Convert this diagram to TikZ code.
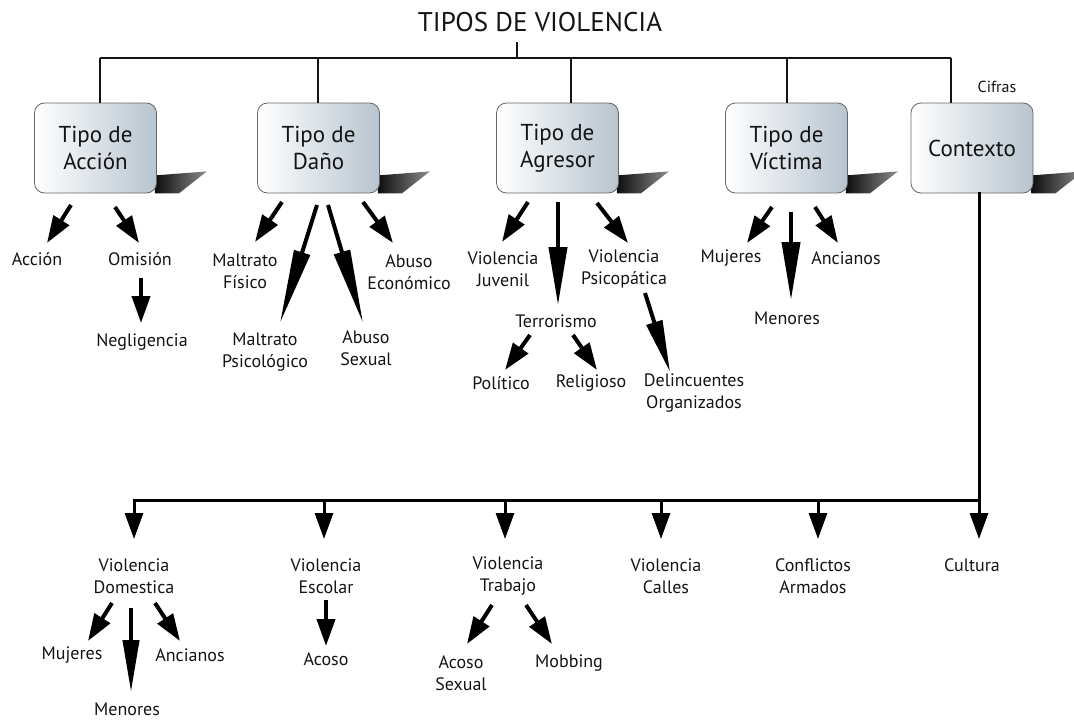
\documentclass[tikz,border=0pt]{standalone}
\usepackage{fontspec}
\setmainfont{PT Sans}
\usetikzlibrary{arrows.meta,backgrounds}
\definecolor{boxgray}{RGB}{184,196,207}
\definecolor{txt}{RGB}{20,20,20}
\newcommand{\boxshadow}[1]{%
  \shade[left color=black!95,right color=black!45]
    ([shift={(-2,-18)}]#1.south east) -- ([shift={(50,-22)}]#1.south east)
    -- ([shift={(22,0)}]#1.south east) -- ([shift={(-2,0)}]#1.south east) -- cycle;}
\begin{document}
\begin{tikzpicture}[x=1pt,y=-1pt,
  lbl/.style={font=\fontsize{18}{22}\selectfont, align=center, inner sep=0pt, text=txt},
  catbox/.style={draw=black!60, line width=0.8pt, rounded corners=10pt,
    left color=white, right color=boxgray, minimum width=122pt, minimum height=90pt,
    align=center, inner sep=2pt, text=txt, font=\fontsize{23}{27}\selectfont},
  conn/.style={line width=1.3pt, draw=txt},
  thk/.style={line width=3pt, line cap=rect},
  sarr/.style={line width=4pt, -{Triangle[length=27pt,width=18pt]}},
  marr/.style={line width=4pt, -{Triangle[length=58pt,width=18pt]}},
  larr/.style={line width=4pt, -{Triangle[length=74pt,width=16pt]}},
  darr/.style={line width=4pt, -{Triangle[length=52pt,width=16pt]}},
  barr/.style={line width=3pt, -{Triangle[length=26pt,width=18pt]}}]
\useasboundingbox (0,0) rectangle (1074,720);

% title
\node[font=\fontsize{27}{30}\selectfont, text=txt] (title) at (540,22) {TIPOS DE VIOLENCIA};

% category boxes
\node[catbox] (acc) at (95.5,148) {Tipo de\\Acción};
\node[catbox] (dan) at (318.5,148) {Tipo de\\Daño};
\node[catbox] (agr) at (557.5,148) {Tipo de\\Agresor};
\node[catbox] (vic) at (786.5,148) {Tipo de\\Víctima};
\node[catbox] (ctx) at (972,148) {Contexto};
\begin{pgfonlayer}{background}
\boxshadow{acc}\boxshadow{dan}\boxshadow{agr}\boxshadow{vic}\boxshadow{ctx}
\end{pgfonlayer}
\node[lbl, font=\fontsize{16}{19}\selectfont] (cif) at (997,87) {Cifras};

% top connectors
\coordinate (jt) at (517,58);
\coordinate (j1) at (100,58);
\coordinate (j2) at (318,58);
\coordinate (j3) at (571,58);
\coordinate (j4) at (787,58);
\coordinate (j5) at (951,58);
\draw[conn] ([shift={(-23,20)}]title.center) -- (jt);
\draw[conn] (j1) -- (j5);
\draw[conn] (j1) -- (j1 |- acc.north);
\draw[conn] (j2) -- (j2 |- dan.north);
\draw[conn] (j3) -- (j3 |- agr.north);
\draw[conn] (j4) -- (j4 |- vic.north);
\draw[conn] (j5) -- (j5 |- ctx.north);

% labels upper
\node[lbl] (lacc) at (37,259) {Acción};
\node[lbl] (lomi) at (140,259) {Omisión};
\node[lbl] (lneg) at (142,342) {Negligencia};
\node[lbl] (lmf) at (245,271) {Maltrato\\Físico};
\node[lbl] (lmp) at (265,352) {Maltrato\\Psicológico};
\node[lbl] (las) at (366,348) {Abuso\\Sexual};
\node[lbl] (lae) at (409,272) {Abuso\\Económico};
\node[lbl] (lvj) at (503,269) {Violencia\\Juvenil};
\node[lbl] (lter) at (556,321) {Terrorismo};
\node[lbl] (lvp) at (624,269) {Violencia\\Psicopática};
\node[lbl] (lpol) at (501,383) {Político};
\node[lbl] (lrel) at (591,383) {Religioso};
\node[lbl] (ldel) at (694,393) {Delincuentes\\Organizados};
\node[lbl] (lmuj) at (731,258) {Mujeres};
\node[lbl] (lmen) at (787,318) {Menores};
\node[lbl] (lanc) at (846,258) {Ancianos};

% arrows upper
\draw[sarr] ([shift={(-24.5,57)}]acc.center) -- ([shift={(10,-16)}]lacc.center);
\draw[sarr] ([shift={(19.5,59)}]acc.center) -- ([shift={(-1,-16)}]lomi.center);
\draw[sarr] ([shift={(1,19)}]lomi.center) -- ([shift={(-1,-19)}]lneg.center);
\draw[sarr] ([shift={(-36.5,54)}]dan.center) -- ([shift={(10,-29)}]lmf.center);
\draw[larr] ([shift={(-1.5,57)}]dan.center) -- ([shift={(15,-29)}]lmp.center);
\draw[larr] ([shift={(9.5,57)}]dan.center) -- ([shift={(-3,-25)}]las.center);
\draw[sarr] ([shift={(44.5,54)}]dan.center) -- ([shift={(-16,-29)}]lae.center);
\draw[sarr] ([shift={(-29.5,54)}]agr.center) -- ([shift={(-1,-27)}]lvj.center);
\draw[marr] ([shift={(0.5,54)}]agr.center) -- ([shift={(2,-16)}]lter.center);
\draw[sarr] ([shift={(39.5,55)}]agr.center) -- ([shift={(4,-26)}]lvp.center);
\draw[sarr] ([shift={(-26,14)}]lter.center) -- ([shift={(4,-13)}]lpol.center);
\draw[sarr] ([shift={(17,14)}]lter.center) -- ([shift={(6,-13)}]lrel.center);
\draw[darr] ([shift={(21,24)}]lvp.center) -- ([shift={(-24,-21)}]ldel.center);
\draw[sarr] ([shift={(-14.5,59)}]vic.center) -- ([shift={(16,-15)}]lmuj.center);
\draw[marr] ([shift={(4.5,64)}]vic.center) -- ([shift={(4,-18)}]lmen.center);
\draw[sarr] ([shift={(28.5,59)}]vic.center) -- ([shift={(-8,-15)}]lanc.center);

% context branch
\coordinate (b1) at (134,500);
\coordinate (b2) at (324,500);
\coordinate (b3) at (505,500);
\coordinate (b4) at (661,500);
\coordinate (b5) at (818,500);
\coordinate (b6) at (979,500);
\draw[thk] (ctx.south -| b6) -- (b6);
\draw[thk] (b1) -- (b6);

\node[lbl] (lvd) at (134,576) {Violencia\\Domestica};
\node[lbl] (lve) at (326,576) {Violencia\\Escolar};
\node[lbl] (lvt) at (508,576) {Violencia\\Trabajo};
\node[lbl] (lvc) at (666,576) {Violencia\\Calles};
\node[lbl] (lca) at (813,576) {Conflictos\\Armados};
\node[lbl] (lcul) at (972,565) {Cultura};

\draw[barr] (b1) -- ([shift={(0,-37)}]lvd.center);
\draw[barr] (b2) -- ([shift={(-2,-37)}]lve.center);
\draw[barr] (b3) -- ([shift={(-3,-37)}]lvt.center);
\draw[barr] (b4) -- ([shift={(-5,-37)}]lvc.center);
\draw[barr] (b5) -- ([shift={(5,-37)}]lca.center);
\draw[barr] (b6) -- ([shift={(7,-26)}]lcul.center);

\node[lbl] (lmuj2) at (72,655) {Mujeres};
\node[lbl] (lmen2) at (127,709) {Menores};
\node[lbl] (lanc2) at (190,655) {Ancianos};
\node[lbl] (laco) at (326,659) {Acoso};
\node[lbl] (las2) at (461,673) {Acoso\\Sexual};
\node[lbl] (lmob) at (569,663) {Mobbing};

\draw[sarr] ([shift={(-22,27)}]lvd.center) -- ([shift={(16,-14)}]lmuj2.center);
\draw[darr] ([shift={(-3,32)}]lvd.center) -- ([shift={(4,-17)}]lmen2.center);
\draw[sarr] ([shift={(21,27)}]lvd.center) -- ([shift={(-10,-14)}]lanc2.center);
\draw[sarr] ([shift={(0,24)}]lve.center) -- ([shift={(0,-13)}]laco.center);
\draw[sarr] ([shift={(-16,29)}]lvt.center) -- ([shift={(6,-29)}]las2.center);
\draw[sarr] ([shift={(18,29)}]lvt.center) -- ([shift={(-17,-19)}]lmob.center);
\end{tikzpicture}
\end{document}
